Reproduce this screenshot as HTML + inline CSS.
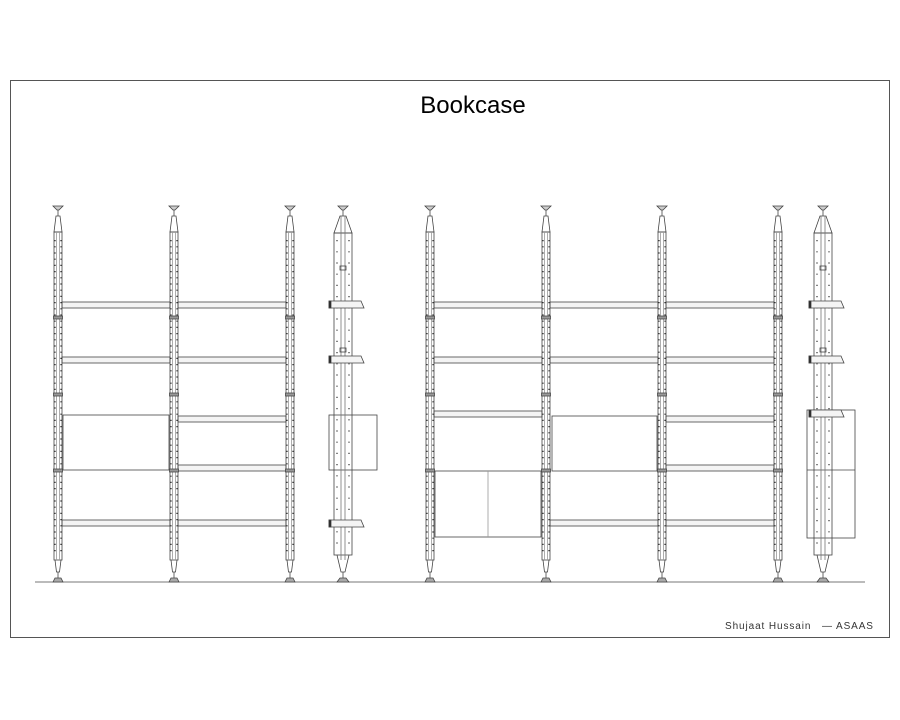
<!DOCTYPE html>
<html><head><meta charset="utf-8"><style>
html,body{margin:0;padding:0;background:#fff;width:900px;height:720px;overflow:hidden}
</style></head><body>
<svg width="900" height="720" viewBox="0 0 900 720" xmlns="http://www.w3.org/2000/svg" font-family="Liberation Sans, sans-serif">
<defs>
<g id="pole" fill="none" stroke="#444" stroke-width="0.8">
  <path d="M-5,206 L5,206 L1,210 L-1,210 Z" fill="#ccc"/>
  <line x1="0" y1="210" x2="0" y2="216"/>
  <path d="M-2,216 L2,216 L4,232 L-4,232 Z"/>
  <rect x="-4" y="232" width="8" height="328"/>
  <line x1="-1.5" y1="232" x2="-1.5" y2="560" stroke="#999"/>
  <line x1="1.5" y1="232" x2="1.5" y2="560" stroke="#999"/>
  <line x1="-3" y1="240" x2="-3" y2="555" stroke="#222" stroke-width="1.2" stroke-dasharray="1.2 5"/>
  <line x1="3" y1="240" x2="3" y2="555" stroke="#222" stroke-width="1.2" stroke-dasharray="1.2 5"/>
  <rect x="-4.5" y="316" width="9" height="3" fill="#999"/>
  <rect x="-4.5" y="393" width="9" height="3" fill="#999"/>
  <rect x="-4.5" y="469" width="9" height="3" fill="#999"/>
  <path d="M-3,560 L-1.5,572 L1.5,572 L3,560"/>
  <line x1="0" y1="572" x2="0" y2="578"/>
  <path d="M-5,582 L-3,578 L3,578 L5,582 Z" fill="#aaa"/>
</g>
<g id="side" fill="none" stroke="#444" stroke-width="0.8">
  <path d="M-5,206 L5,206 L1,210 L-1,210 Z" fill="#ccc"/>
  <line x1="0" y1="210" x2="0" y2="216"/>
  <path d="M-3,216 L3,216 L9,233 L-9,233 Z"/>
  <rect x="-9" y="233" width="18" height="322"/>
  <line x1="-2" y1="216" x2="-2" y2="560" stroke="#777"/>
  <line x1="2" y1="216" x2="2" y2="560" stroke="#777"/>
  <line x1="-6" y1="240" x2="-6" y2="550" stroke="#333" stroke-width="1.2" stroke-dasharray="1.2 10"/>
  <line x1="6" y1="240" x2="6" y2="550" stroke="#333" stroke-width="1.2" stroke-dasharray="1.2 10"/>
  <rect x="-3" y="266" width="6" height="4"/>
  <rect x="-3" y="348" width="6" height="4"/>
  <path d="M-6,555 L-2,572 L2,572 L6,555"/>
  <line x1="0" y1="572" x2="0" y2="578"/>
  <path d="M-6,582 L-3,578 L3,578 L6,582 Z" fill="#aaa"/>
</g>
<g id="bracket" fill="#f4f4f4" stroke="#444" stroke-width="0.8">
  <path d="M-13,0 L19,0 L22,7 L-13,7 Z"/>
  <rect x="-13" y="0" width="2" height="7" fill="#222"/>
</g>
</defs>

<rect x="10.5" y="80.5" width="879" height="557" fill="none" stroke="#555" stroke-width="1"/>
<text x="473" y="113" font-size="24" text-anchor="middle" fill="#000">Bookcase</text>
<text x="725" y="629" font-size="10" fill="#333" letter-spacing="0.9">Shujaat Hussain</text>
<text x="822" y="629" font-size="10" fill="#333" letter-spacing="0.9">— ASAAS</text>

<line x1="35" y1="582" x2="865" y2="582" stroke="#777" stroke-width="1"/>

<g fill="#f4f4f4" stroke="#444" stroke-width="0.8">
<rect x="62" y="302" width="108" height="6"/><rect x="178" y="302" width="108" height="6"/>
<rect x="62" y="357" width="108" height="6"/><rect x="178" y="357" width="108" height="6"/>
<rect x="63" y="415" width="106" height="55" fill="#fff"/>
<rect x="178" y="416" width="108" height="6"/><rect x="178" y="465" width="108" height="6"/>
<rect x="62" y="520" width="108" height="6"/><rect x="178" y="520" width="108" height="6"/>
<rect x="434" y="302" width="108" height="6"/><rect x="550" y="302" width="108" height="6"/><rect x="666" y="302" width="108" height="6"/>
<rect x="434" y="357" width="108" height="6"/><rect x="550" y="357" width="108" height="6"/><rect x="666" y="357" width="108" height="6"/>
<rect x="434" y="411" width="108" height="6"/>
<rect x="435" y="471" width="106" height="66" fill="#fff"/>
<line x1="488" y1="471" x2="488" y2="537" stroke="#999"/>
<rect x="552" y="416" width="105" height="55" fill="#fff"/>
<rect x="550" y="520" width="108" height="6"/>
<rect x="666" y="416" width="108" height="6"/><rect x="666" y="465" width="108" height="6"/><rect x="666" y="520" width="108" height="6"/>
<rect x="329" y="415" width="48" height="55" fill="#fff"/>
<rect x="807" y="410" width="48" height="128" fill="#fff"/>
<line x1="807" y1="470" x2="855" y2="470"/>
</g>

<use href="#pole" x="58"/><use href="#pole" x="174"/><use href="#pole" x="290"/>
<use href="#pole" x="430"/><use href="#pole" x="546"/><use href="#pole" x="662"/><use href="#pole" x="778"/>
<use href="#side" x="343"/><use href="#side" x="823"/>
<use href="#bracket" x="342" y="301"/><use href="#bracket" x="342" y="356"/><use href="#bracket" x="342" y="520"/>
<use href="#bracket" x="822" y="301"/><use href="#bracket" x="822" y="356"/><use href="#bracket" x="822" y="410"/>
</svg>
</body></html>
